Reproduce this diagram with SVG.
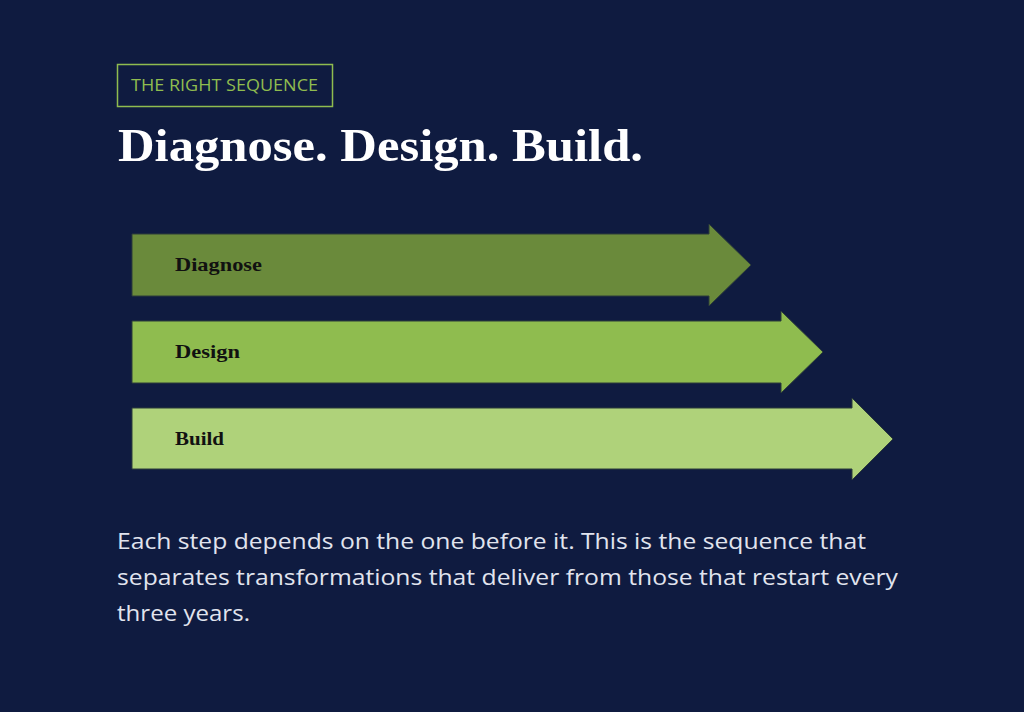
<svg xmlns="http://www.w3.org/2000/svg" width="1024" height="712" viewBox="0 0 1024 712">
<style>
.tag{font-family:"Open Sans","Liberation Sans",sans-serif;font-size:17px;fill:#8fbc4f}
.title{font-family:"Liberation Serif","DejaVu Serif",serif;font-weight:bold;font-size:47px;fill:#ffffff}
.lbl{font-family:"Liberation Serif","DejaVu Serif",serif;font-weight:bold;font-size:19px;fill:#111111}
.body{font-family:"Open Sans","Liberation Sans",sans-serif;font-size:21px;fill:#e1e4ee}
.arrow{stroke:#2d3d3a;stroke-width:1}
</style>
<rect width="1024" height="712" fill="#0f1b40"/>
<g id="tag">
<rect x="117.5" y="64.5" width="215" height="42" fill="none" stroke="#8fbc4f" stroke-width="1.5"/>
<text class="tag" x="131" y="91" textLength="187" lengthAdjust="spacingAndGlyphs">THE RIGHT SEQUENCE</text>
</g>
<g id="title">
<text class="title" x="118" y="161" textLength="525" lengthAdjust="spacingAndGlyphs">Diagnose. Design. Build.</text>
</g>
<g id="connectors"></g>
<g id="diagnose">
<polygon class="arrow" fill="#6a8a3b" points="132,234 709,234 709,224 751,265 709,306 709,296 132,296"/>
<text class="lbl" x="175" y="271" textLength="87" lengthAdjust="spacingAndGlyphs">Diagnose</text>
</g>
<g id="design">
<polygon class="arrow" fill="#8fbc4f" points="132,321 781,321 781,311 823,352 781,393 781,383 132,383"/>
<text class="lbl" x="175" y="358" textLength="65" lengthAdjust="spacingAndGlyphs">Design</text>
</g>
<g id="build">
<polygon class="arrow" fill="#afd27a" points="132,408 852,408 852,398 893,439 852,480 852,469 132,469"/>
<text class="lbl" x="175" y="445" textLength="49" lengthAdjust="spacingAndGlyphs">Build</text>
</g>
<g id="body">
<text class="body" x="117" y="549" textLength="749" lengthAdjust="spacingAndGlyphs">Each step depends on the one before it. This is the sequence that</text>
<text class="body" x="117" y="585" textLength="781" lengthAdjust="spacingAndGlyphs">separates transformations that deliver from those that restart every</text>
<text class="body" x="117" y="621" textLength="133" lengthAdjust="spacingAndGlyphs">three years.</text>
</g>
</svg>
